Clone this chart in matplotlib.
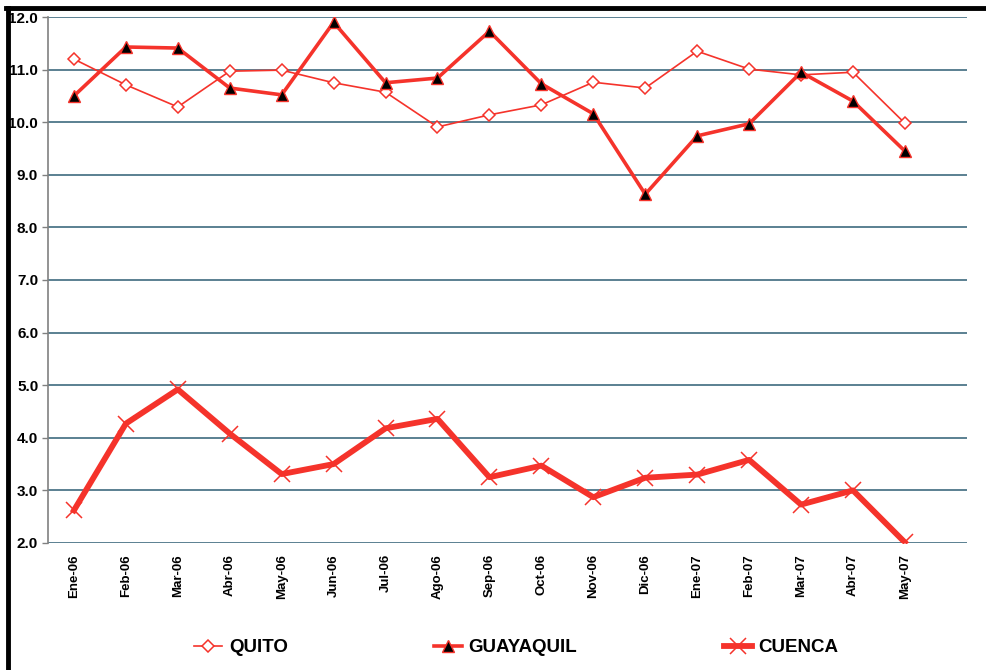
import matplotlib
matplotlib.use("Agg")
import matplotlib.pyplot as plt
from matplotlib.lines import Line2D
from matplotlib import font_manager

months = ["Ene-06", "Feb-06", "Mar-06", "Abr-06", "May-06", "Jun-06", "Jul-06", "Ago-06",
          "Sep-06", "Oct-06", "Nov-06", "Dic-06", "Ene-07", "Feb-07", "Mar-07", "Abr-07", "May-07"]
quito = [11.20, 10.71, 10.29, 10.97, 10.99, 10.75, 10.57, 9.91, 10.14, 10.33, 10.76, 10.65,
         11.35, 11.01, 10.90, 10.95, 9.98]
guayaquil = [10.50, 11.43, 11.41, 10.65, 10.52, 11.90, 10.75, 10.84, 11.73, 10.73, 10.16, 8.63,
             9.74, 9.97, 10.95, 10.40, 9.45]
cuenca = [2.62, 4.27, 4.92, 4.08, 3.31, 3.50, 4.18, 4.36, 3.25, 3.47, 2.87, 3.24,
          3.30, 3.58, 2.73, 3.00, 2.01]
yticks = [2.0, 3.0, 4.0, 5.0, 6.0, 7.0, 8.0, 9.0, 10.0, 11.0, 12.0]

names = {f.name for f in font_manager.fontManager.ttflist}
narrow = "Liberation Sans Narrow" if "Liberation Sans Narrow" in names else "Liberation Sans"

RED = "#f5332b"
GRID = "#4d7689"

fig = plt.figure(figsize=(9.87, 6.70), dpi=100)
ax = fig.add_axes([0.0486, 0.1896, 0.9314, 0.785])

x = list(range(len(months)))
for yv in yticks:
    ax.axhline(yv, color=GRID, lw=1.3, zorder=1)

ax.plot(x, quito, color=RED, lw=1.2, marker="D", ms=6, mfc="white", mec=RED, mew=1.1, zorder=3,
        label="QUITO")
ax.plot(x, guayaquil, color=RED, lw=2.6, marker="^", ms=8, mfc="black", mec=RED, mew=1.0, zorder=4,
        label="GUAYAQUIL")
ax.plot(x, cuenca, color=RED, lw=4.2, marker="x", ms=11, mec=RED, mew=1.1, zorder=2,
        label="CUENCA")

ax.set_xlim(-0.5, 17.2)
ax.set_ylim(2.0, 12.0)
ax.set_yticks(yticks)
ax.set_yticklabels([f"{v:.1f}" for v in yticks], fontfamily=narrow, fontweight="bold", fontsize=11)
ax.set_xticks(x)
ax.set_xticklabels(months, rotation=90, fontfamily="Liberation Sans", fontweight="bold", fontsize=9.5)
ax.tick_params(axis="x", length=0, pad=8)
ax.tick_params(axis="y", length=4, width=1, color="#808080", pad=3)
for s in ["top", "right", "bottom"]:
    ax.spines[s].set_visible(False)
ax.spines["left"].set_color("#808080")
ax.spines["left"].set_linewidth(1.2)

leg = fig.legend(loc="center", bbox_to_anchor=(0.523, 0.033), ncol=3, frameon=False,
                 prop={"family": narrow, "weight": "bold", "size": 13.5},
                 columnspacing=7.8, handlelength=1.5, handletextpad=0.35)

# black frame lines (left and top)
fig.add_artist(Line2D([0.0081, 0.0081], [0, 0.9881], transform=fig.transFigure, color="black", lw=3.5))
fig.add_artist(Line2D([0.0061, 1.0], [0.9881, 0.9881], transform=fig.transFigure, color="black", lw=3.5))

fig.savefig("out.png", dpi=100)
